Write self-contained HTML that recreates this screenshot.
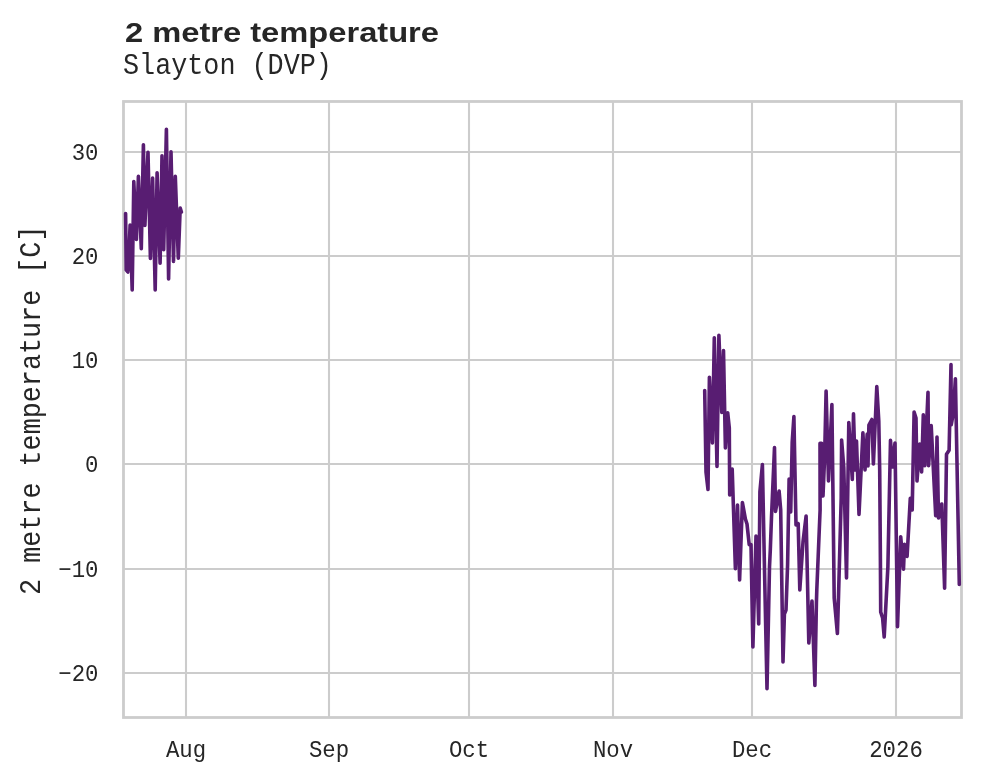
<!DOCTYPE html>
<html><head><meta charset="utf-8">
<style>
html,body{margin:0;padding:0;background:#fff;width:981px;height:782px;overflow:hidden}
svg{display:block;will-change:transform}
.mono{font-family:"Liberation Mono",monospace}
.sans{font-family:"Liberation Sans",sans-serif}
</style></head><body>
<svg width="981" height="782" viewBox="0 0 981 782">
<rect width="981" height="782" fill="#fff"/>
<g stroke="#cccccc" stroke-width="2.1" fill="none">
<line x1="123" y1="152" x2="962" y2="152"/><line x1="123" y1="256" x2="962" y2="256"/><line x1="123" y1="360" x2="962" y2="360"/><line x1="123" y1="464" x2="962" y2="464"/><line x1="123" y1="569" x2="962" y2="569"/><line x1="123" y1="673" x2="962" y2="673"/><line x1="186" y1="101" x2="186" y2="718"/><line x1="329" y1="101" x2="329" y2="718"/><line x1="469" y1="101" x2="469" y2="718"/><line x1="613" y1="101" x2="613" y2="718"/><line x1="752" y1="101" x2="752" y2="718"/><line x1="896" y1="101" x2="896" y2="718"/>
</g>
<rect x="123.5" y="101.5" width="838" height="616" fill="none" stroke="#cccccc" stroke-width="2.8"/>
<g fill="none" stroke="#581d72" stroke-width="3.6" stroke-linejoin="round" stroke-linecap="round">
<polyline points="125.6,213.5 126.2,270 127.8,272 128.6,262 130.1,225 132.2,290 133.8,181.6 136.4,239.5 138.4,176.4 141.3,248.6 143.4,144.8 144.9,225.5 148.0,152.2 150.4,258.5 152.6,178.1 155.2,290 157.1,172.7 160.1,263.2 162.0,155.7 163.7,249.8 166.4,129.2 168.6,279 171.0,151.7 173.5,261.4 175.3,176.4 178.3,258.3 180.2,208 181.4,212"/>
<polyline points="704.7,390.5 706,472 708.0,489.5 709.4,377.2 712.4,443 714.3,337.8 717.0,466.5 718.9,335.2 721.8,412.5 723.5,350.6 725.4,448 727.7,412.7 729.3,428 729.7,495 732.2,469 735.4,568.7 737.5,505 739.6,580 742.4,502.5 745.4,519 747,524 749.2,544.6 751,544.6 752.9,647 756,536 758.7,624 759.9,491.6 762.4,464.6 764.8,584 767,688.6 769.5,566.9 770.3,550 771.5,517 774.5,447.6 775.5,511.4 779.1,491 780.7,510 783.0,662 784.4,614 786,610 787.6,564.5 789.1,479 790.7,512 792.2,442 793.9,416.5 796,525 798.2,523.6 799.8,590 803,542 806.1,516 808.8,643 812,601 814.9,685.5 816.4,603 816.8,590 820.1,510 820,443.4 821.6,443.4 823,496 824.6,458 826.1,391.1 828.5,481 831.9,404.6 834.2,598 837.4,633.5 838.5,597 841.2,498 841.6,440 843.8,468 846.5,578 848.8,422.6 852.3,479.5 853.5,413.7 855.2,470 856.5,441 859,514.5 862.9,432.8 865,470 867.2,434 868,466 868.9,425.2 871.9,419.5 873.4,464 876.8,386.5 878.8,421 879.7,470 880.4,560 880.7,612 882.6,618 884.2,637 887.9,566.6 890.5,440.3 892.4,467 895,443 897.5,626.7 900.7,536.7 903.5,569.2 904.5,544.4 907.1,556.4 910.3,498.4 912.2,509.9 914.1,412 916,418 917,481 919.7,444 921.6,472 923.3,414.7 924.8,465.7 928,392.3 928.6,465.7 931.2,425.6 935.7,515.6 937,437 938.5,518 941.8,504 944.6,588.3 946.5,454.2 949.1,450.3 951,364.5 951.2,424.8 953.2,414 955.4,378.7 959.3,584.5"/>
</g>
<g class="mono" fill="#262626" font-size="24px">
<text transform="translate(98.5,160.3) scale(0.93,1)" text-anchor="end">30</text><text transform="translate(98.5,264.3) scale(0.93,1)" text-anchor="end">20</text><text transform="translate(98.5,368.3) scale(0.93,1)" text-anchor="end">10</text><text transform="translate(98.5,472.3) scale(0.93,1)" text-anchor="end">0</text><text transform="translate(98.5,577.3) scale(0.93,1)" text-anchor="end">−10</text><text transform="translate(98.5,681.3) scale(0.93,1)" text-anchor="end">−20</text>
<text transform="translate(186,756.8) scale(0.93,1)" text-anchor="middle">Aug</text><text transform="translate(329,756.8) scale(0.93,1)" text-anchor="middle">Sep</text><text transform="translate(469,756.8) scale(0.93,1)" text-anchor="middle">Oct</text><text transform="translate(613,756.8) scale(0.93,1)" text-anchor="middle">Nov</text><text transform="translate(752,756.8) scale(0.93,1)" text-anchor="middle">Dec</text><text transform="translate(896,756.8) scale(0.93,1)" text-anchor="middle">2026</text>
</g>
<text class="mono" fill="#262626" font-size="28.8px" transform="translate(39.5,595) rotate(-90) scale(0.93,1)">2 metre temperature [C]</text>
<text class="sans" fill="#262626" font-size="28px" font-weight="bold" x="125" y="42" textLength="314" lengthAdjust="spacingAndGlyphs">2 metre temperature</text>
<text class="mono" fill="#262626" font-size="28.8px" transform="translate(123,74) scale(0.93,1)">Slayton (DVP)</text>
</svg>
</body></html>
